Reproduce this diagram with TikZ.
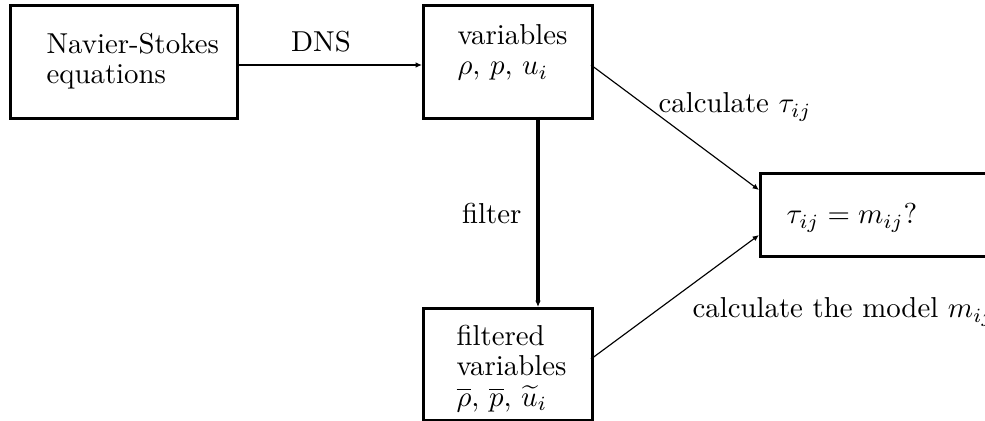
\documentclass[tikz,border=0pt]{standalone}
\usetikzlibrary{arrows.meta,calc}
\begin{document}
\begin{tikzpicture}[x=0.347pt,y=-0.347pt,
  box/.style={draw,line width=1pt,rectangle,inner sep=0pt,anchor=north west},
  txt/.style={inner sep=0pt,align=left,font=\fontsize{10}{10.5}\selectfont},
  tip/.style={-{Latex[length=2.2pt,width=1.9pt]}},
  thin/.style={tip,line width=0.4pt},
  mid/.style={tip,line width=0.75pt},
  thick/.style={tip,line width=1.05pt}]
\useasboundingbox (0,0) rectangle (985,421);
\clip (0,0) rectangle (985,421);
% boxes
\node[box,minimum width=227*0.347pt,minimum height=113*0.347pt] (ns) at (9,4) {};
\node[box,minimum width=169*0.347pt,minimum height=113*0.347pt] (var) at (422,4) {};
\node[box,minimum width=169*0.347pt,minimum height=112*0.347pt] (fil) at (422,307) {};
\node[box,minimum width=260*0.347pt,minimum height=83*0.347pt] (cmp) at (759,172) {};
% box texts (anchor at baseline of last line)
\node[txt,anchor=base west] (nst) at (46,84) {Navier-Stokes\\equations};
\node[txt,anchor=base west] (vart) at (457,75) {variables\\$\rho,\,p,\,u_i$};
\node[txt,anchor=base west] (filt) at (456,406) {filtered\\variables\\$\overline{\rho},\,\overline{p},\,\widetilde{u}_i$};
\node[txt,anchor=center] (cmpt) at (852,218) {$\tau_{ij}=m_{ij}?$};
% connectors
\coordinate (dnsS) at (236,65);
\coordinate (dnsE) at (422,65);
\draw[mid] (dnsS) -- (dnsE);
\node[txt,anchor=base] (dns) at (321,52) {DNS};
\coordinate (fS) at (538,117);
\coordinate (fE) at (538,307);
\draw[thick] (fS) -- (fE);
\node[txt,anchor=base east] (filterl) at (522,224) {filter};
\coordinate (tS) at (591,65);
\coordinate (tE) at (759,190);
\draw[thin] (tS) -- (tE);
\node[txt,anchor=base west] (tl) at (658,113) {calculate $\tau_{ij}$};
\coordinate (mS) at (591,359);
\coordinate (mE) at (759,235);
\draw[thin] (mS) -- (mE);
\node[txt,anchor=base west] (ml) at (692,318) {calculate the model $m_{ij}$};
\end{tikzpicture}
\end{document}
